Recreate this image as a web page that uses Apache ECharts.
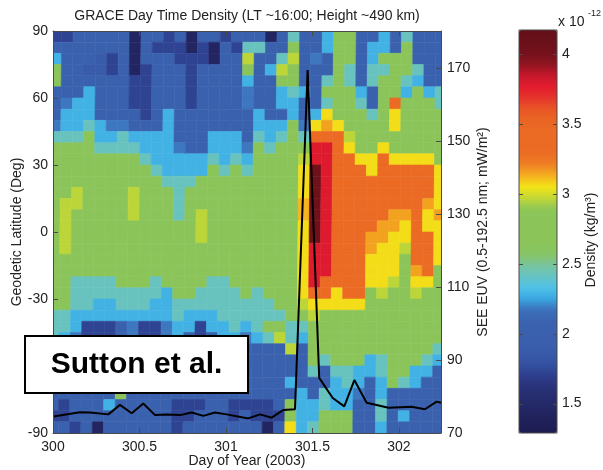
<!DOCTYPE html>
<html><head><meta charset="utf-8">
<script src="https://cdn.jsdelivr.net/npm/echarts/dist/echarts.min.js"></script>
<style>html,body{margin:0;padding:0;background:#fff}#c{width:603px;height:470px}</style>
</head><body><div id="c"></div><script>
const chartTitle = 'GRACE Day Time Density (LT ~16:00; Height ~490 km)';
// orbit (column) edges in day-of-year, at the equator
const orbitEdges = [299.95,300.040,300.106,300.171,300.237,300.302,300.368,300.433,300.499,300.564,300.630,300.695,300.761,300.826,300.892,300.957,301.023,301.088,301.154,301.219,301.285,301.350,301.416,301.481,301.547,301.612,301.678,301.743,301.809,301.874,301.940,302.005,302.071,302.136,302.202,302.30];
// latitude bin edges (deg)
const latEdges = [90,85,80,75,70,65,60,55,50,45,40,35,30,25,20,15,10,5,0,-5,-10,-15,-20,-25,-30,-35,-40,-45,-50,-55,-60,-65,-70,-75,-80,-85,-90];
// density (x 1e-12 kg/m^3), one array per orbit, north -> south
const density = [
[1.72,2.0,2.28,2.75,2.75,2.0,2.0,2.0,2.18,2.42,2.75,2.75,2.75,2.75,2.75,2.75,2.75,2.75,2.75,2.75,2.75,2.75,2.75,2.75,2.75,2.42,2.42,2.42,2.28,2.0,2.0,2.0,2.0,2.0,1.72,2.0],
[1.72,2.0,2.0,2.0,2.0,2.0,2.18,2.28,2.28,2.42,2.75,2.75,2.75,2.75,2.75,2.96,2.96,2.96,2.96,2.96,2.75,2.75,2.75,2.75,2.75,2.42,2.42,2.28,2.18,2.0,2.0,2.0,2.0,1.72,1.72,2.0],
[2.0,2.0,2.0,2.0,2.0,2.0,2.28,2.28,2.28,2.42,2.75,2.75,2.75,2.75,2.96,2.96,2.75,2.75,2.75,2.75,2.75,2.75,2.42,2.42,2.42,2.28,2.28,2.18,2.0,2.0,2.0,2.0,2.0,2.0,2.0,1.72],
[2.0,2.0,2.0,1.88,2.0,2.28,2.28,2.28,2.42,2.75,2.75,2.75,2.75,2.75,2.75,2.75,2.75,2.75,2.75,2.75,2.75,2.75,2.42,2.42,2.42,2.28,1.72,1.72,2.0,2.0,2.0,2.0,2.0,2.0,2.0,2.0],
[2.0,2.0,1.88,1.88,2.0,2.0,2.0,2.0,2.28,2.28,2.42,2.75,2.75,2.75,2.75,2.75,2.75,2.75,2.75,2.75,2.75,2.75,2.42,2.42,2.28,2.28,1.72,1.72,2.0,2.0,2.0,2.0,2.0,2.0,2.0,1.45],
[2.0,2.0,1.72,1.72,2.0,2.0,2.0,2.0,2.18,2.28,2.42,2.75,2.75,2.75,2.75,2.75,2.75,2.75,2.75,2.75,2.75,2.75,2.42,2.42,2.28,2.28,1.72,1.72,2.0,2.0,2.0,2.0,2.0,2.28,2.0,2.0],
[2.0,2.0,2.0,2.0,2.0,2.0,2.0,2.0,2.18,2.42,2.42,2.75,2.75,2.75,2.75,2.75,2.75,2.75,2.75,2.88,2.75,2.75,2.75,2.42,2.42,2.28,2.0,2.0,2.0,2.0,2.0,2.0,2.75,2.0,2.0,2.0],
[1.45,1.45,1.45,1.45,1.72,1.72,1.72,2.0,2.0,2.28,2.42,2.75,2.75,2.75,2.96,2.96,2.96,2.75,2.75,2.75,2.75,2.75,2.75,2.42,2.42,2.28,2.18,2.18,2.0,2.0,2.0,2.0,2.0,2.0,2.0,2.0],
[2.0,2.0,2.0,1.72,1.72,1.72,1.72,1.72,2.0,2.28,2.28,2.42,2.75,2.75,2.75,2.75,2.75,2.75,2.75,2.75,2.75,2.75,2.75,2.42,2.42,2.28,1.72,1.72,2.0,2.0,2.0,2.0,2.0,2.0,2.0,2.0],
[2.0,1.72,2.0,2.0,2.0,2.0,2.0,2.0,2.0,2.28,2.28,2.28,2.42,2.75,2.75,2.75,2.75,2.75,2.75,2.75,2.75,2.75,2.42,2.42,2.28,2.28,1.72,1.72,2.0,2.0,2.0,2.0,2.0,2.0,2.0,2.0],
[1.72,1.72,2.0,2.0,2.0,2.0,2.0,2.28,2.28,2.28,2.28,2.28,2.28,2.42,2.75,2.75,2.75,2.75,2.75,2.75,2.75,2.75,2.75,2.28,2.28,2.28,2.18,2.18,2.0,2.0,2.0,2.0,2.0,2.0,2.0,2.0],
[2.0,1.72,1.72,2.0,2.0,2.0,2.0,2.0,2.0,2.0,2.18,2.28,2.28,2.42,2.42,2.42,2.42,2.75,2.75,2.75,2.75,2.75,2.75,2.75,2.42,2.42,2.28,2.28,2.0,2.0,2.0,2.0,2.0,1.72,1.72,1.72],
[1.45,1.45,1.72,1.72,1.72,1.72,1.72,2.0,2.0,2.0,2.0,2.28,2.28,2.42,2.75,2.75,2.75,2.75,2.75,2.75,2.75,2.75,2.75,2.75,2.42,2.28,2.28,2.0,2.0,2.0,2.0,2.0,2.0,1.72,1.72,2.0],
[2.0,1.72,1.72,2.0,2.0,2.0,2.0,2.0,2.0,2.0,2.0,2.28,2.28,2.75,2.75,2.75,2.96,2.96,2.96,2.75,2.75,2.75,2.75,2.42,2.42,2.28,1.72,1.72,2.0,2.0,2.0,2.0,2.0,1.72,2.0,2.0],
[2.0,1.45,1.45,2.0,2.0,2.0,2.0,2.0,2.0,2.28,2.28,2.42,2.75,2.75,2.75,2.75,2.75,2.75,2.75,2.75,2.75,2.75,2.42,2.42,2.42,2.28,2.28,2.0,2.0,2.0,2.0,2.0,2.0,2.0,2.0,2.0],
[1.72,2.0,2.0,2.0,2.0,2.0,2.0,2.0,2.0,2.28,2.28,2.28,2.42,2.75,2.75,2.75,2.75,2.75,2.75,2.75,2.75,2.75,2.42,2.42,2.42,2.42,2.28,2.28,2.0,2.0,2.0,2.0,2.0,2.0,2.0,2.0],
[2.0,1.72,2.0,2.0,2.0,2.0,2.0,2.0,2.0,2.28,2.28,2.42,2.75,2.75,2.75,2.75,2.75,2.75,2.75,2.75,2.75,2.75,2.75,2.42,2.42,2.42,2.42,2.28,2.0,2.0,2.0,2.0,2.0,1.72,1.72,2.0],
[2.0,2.42,2.96,2.75,2.28,2.18,2.18,2.0,2.0,2.0,2.18,2.28,2.42,2.75,2.75,2.75,2.75,2.75,2.75,2.75,2.75,2.75,2.75,2.75,2.42,2.42,2.28,2.18,2.0,2.0,2.0,2.0,2.0,1.72,2.0,2.0],
[2.0,2.42,2.0,2.0,2.0,2.0,2.0,2.28,2.28,2.42,2.75,2.75,2.75,2.75,2.75,2.75,2.75,2.75,2.75,2.75,2.75,2.75,2.75,2.42,2.42,2.42,2.42,2.28,2.0,2.0,2.0,2.0,2.0,1.72,1.72,2.0],
[1.45,2.0,2.0,2.28,2.0,2.0,2.0,2.0,2.28,2.28,2.42,2.75,2.75,2.75,2.75,2.75,2.75,2.75,2.75,2.75,2.75,2.75,2.75,2.75,2.42,2.42,2.75,2.42,2.0,2.0,2.0,2.0,2.0,1.72,1.72,1.45],
[2.0,2.0,2.42,2.96,2.75,2.28,2.28,2.0,2.28,2.42,2.75,2.75,2.75,2.75,2.75,2.75,2.75,2.75,2.75,2.75,2.75,2.75,2.75,2.75,2.75,2.42,2.75,2.96,2.0,2.0,2.0,2.0,2.0,2.0,1.72,2.0],
[2.42,2.75,2.96,2.75,2.75,2.42,2.28,2.28,2.75,2.75,2.75,2.75,2.75,2.75,2.75,2.75,2.75,2.75,2.75,2.75,2.75,2.75,2.75,2.75,2.75,2.75,2.42,2.42,2.96,2.0,2.0,2.28,2.0,2.75,2.75,3.06],
[2.0,2.0,2.0,2.0,2.0,2.28,2.0,2.0,2.18,2.42,2.75,2.96,3.06,3.06,3.06,3.12,3.12,3.06,3.06,3.06,3.06,3.06,3.06,3.06,2.96,2.75,2.42,2.28,2.0,2.0,2.0,2.0,2.28,2.28,2.28,2.28],
[2.0,2.0,2.18,2.0,2.0,2.0,2.0,2.28,3.06,3.4,3.78,3.78,4.05,4.05,4.05,4.05,4.05,4.05,4.05,3.78,3.78,3.78,3.78,3.4,3.06,2.96,2.75,2.75,2.75,2.75,2.42,2.0,2.0,2.28,2.28,2.42],
[2.28,2.28,2.0,2.0,2.42,2.75,2.42,3.06,3.15,3.4,3.78,3.78,3.78,3.78,3.78,3.78,3.78,3.78,3.78,3.78,3.78,3.78,3.4,3.4,3.06,2.75,2.75,2.75,2.75,2.42,2.0,2.0,2.42,2.42,2.75,2.75],
[2.75,2.75,2.75,2.75,2.75,2.75,2.75,2.75,3.06,3.4,3.4,3.4,3.4,3.4,3.4,3.4,3.4,3.4,3.4,3.4,3.4,3.4,3.4,3.06,3.06,2.75,2.75,2.75,2.75,2.75,2.42,2.28,2.28,2.28,2.75,2.75],
[2.75,2.75,2.75,2.42,2.42,2.75,2.75,2.75,2.75,2.96,3.06,3.4,3.4,3.4,3.4,3.4,3.4,3.4,3.4,3.4,3.4,3.4,3.4,3.4,3.06,2.75,2.75,2.75,2.75,2.75,2.42,2.42,2.28,2.28,2.75,2.75],
[2.0,2.0,2.0,2.0,2.0,2.28,2.42,2.75,2.75,2.75,2.75,3.06,3.4,3.4,3.4,3.4,3.4,3.4,3.4,3.4,3.4,3.4,3.4,3.4,3.06,2.75,2.75,2.75,2.75,2.75,2.28,2.28,2.18,2.0,2.0,2.0],
[2.0,2.28,2.28,2.42,2.42,2.0,2.0,2.42,2.75,2.75,2.75,3.06,3.06,3.4,3.4,3.4,3.4,3.4,3.15,3.15,3.06,3.06,3.06,2.75,2.75,2.75,2.75,2.75,2.75,2.28,2.28,2.0,2.0,2.0,2.0,2.0],
[2.28,2.28,2.75,2.42,2.75,2.75,2.75,2.75,2.75,2.75,3.06,3.4,3.4,3.4,3.4,3.4,3.4,3.15,3.15,3.06,3.06,3.06,3.06,2.96,2.75,2.75,2.75,2.75,2.75,2.42,2.42,2.28,2.28,2.42,2.42,2.28],
[2.0,2.0,2.75,2.75,2.75,2.75,3.4,3.06,3.06,2.75,2.75,3.06,3.4,3.4,3.4,3.4,3.15,3.15,3.06,3.06,3.06,3.06,2.96,2.75,2.75,2.75,2.75,2.75,2.75,2.75,2.75,2.75,2.0,2.0,2.0,2.0],
[2.42,2.75,2.75,2.75,2.42,2.28,2.75,2.75,2.75,2.75,2.75,3.06,3.4,3.4,3.4,3.4,3.15,3.06,3.06,2.96,2.75,2.75,2.75,2.75,2.75,2.75,2.75,2.75,2.75,2.75,2.75,2.42,2.0,2.0,2.28,2.0],
[2.0,2.0,2.0,2.42,2.28,2.75,2.75,2.75,2.75,2.75,2.75,3.06,3.4,3.4,3.4,3.4,3.4,3.4,3.4,3.4,3.4,3.15,3.06,2.96,2.75,2.75,2.75,2.75,2.75,2.75,2.28,2.28,2.0,2.0,2.0,2.0],
[2.0,2.0,2.0,2.0,2.0,2.28,2.75,2.75,2.75,2.75,2.75,3.06,3.4,3.4,3.4,3.15,3.06,3.06,3.4,3.4,3.4,3.4,3.06,2.75,2.75,2.75,2.75,2.75,2.75,2.42,2.28,2.0,2.0,2.0,2.0,2.0],
[2.0,2.0,2.0,2.0,2.0,2.42,2.42,2.75,2.75,2.75,2.75,2.75,3.06,3.06,3.06,3.06,3.15,3.06,3.06,3.06,3.06,2.75,2.75,2.75,2.75,2.75,2.75,2.75,2.42,2.28,2.0,2.0,2.0,2.0,2.0,2.0]
];
// SEE EUV (mW/m^2)
const euvDay = [300.002,300.156,300.214,300.320,300.387,300.455,300.522,300.590,300.657,300.734,300.802,300.869,300.936,301.004,301.129,301.197,301.264,301.331,301.399,301.472,301.539,301.617,301.684,301.742,301.813,301.940,302.073,302.150,302.218,302.243];
const euvValue = [74.5,75.7,75.6,75.1,77.7,75.4,78.1,74.9,75.1,74.9,75.6,74.7,75.6,75.1,74.0,75.1,74.2,76.3,76.5,169.4,85.1,79.6,77.3,84.5,78.3,76.9,77.2,76.5,78.6,78.3];
const dayTicks = [300, 300.5, 301, 301.5, 302];
const latTicks = [-90, -60, -30, 0, 30, 60, 90];
const euvTicks = [70, 90, 110, 130, 150, 170];
const densityTicks = [1.5, 2, 2.5, 3, 3.5, 4];
const densityRange = [1.29, 4.17];
const colorScale = ['#1d1c50','#1f2058','#222562','#252b6c','#293277','#2d3c8b','#334f9f','#3759a8','#3a5fad','#3a61ae','#3b63b0','#3c70ba','#3aa8e2','#50c2e6','#66c3c4','#79c49c','#87c563','#8bc55a','#8bc55a','#8bc55a','#8dc658','#c3d734','#f3e417','#f5ae1f','#ee7e23','#eb6c24','#eb6a24','#eb6a24','#e96524','#e85427','#e5322b','#e21b2e','#c3172a','#8c1420','#73111b','#6a1019','#640f18'];

const passLag = 0.0101; // day offset of a pass at the poles relative to the equator
const cells = [];
density.forEach((col, c) => col.forEach((v, r) => {
  cells.push([orbitEdges[c], orbitEdges[c + 1], latEdges[r], latEdges[r + 1], v]);
}));

const font = '"Liberation Sans", Arial, Helvetica, sans-serif';
const frame = '#4a4a4a';
const txt = '#222';
const cbTickLen = 4;

function renderCell(params, api) {
  const t0 = api.value(0), t1 = api.value(1), a = api.value(2), b = api.value(3);
  const sa = passLag * a / 90, sb = passLag * b / 90;
  const pts = [api.coord([t0 + sa, a]), api.coord([t1 + sa, a]), api.coord([t1 + sb, b]), api.coord([t0 + sb, b])];
  const col = api.visual('color');
  return { type: 'polygon', shape: { points: pts }, style: { fill: col, stroke: col, lineWidth: 0.6 } };
}
function renderBarTick(params, api) {
  const v = api.value(0);
  const l = api.coord([0, v]), r = api.coord([1, v]);
  const st = { stroke: frame, lineWidth: 1 };
  return { type: 'group', children: [
    { type: 'line', shape: { x1: l[0], y1: Math.round(l[1]) + 0.5, x2: l[0] + cbTickLen, y2: Math.round(l[1]) + 0.5 }, style: st },
    { type: 'line', shape: { x1: r[0] - cbTickLen, y1: Math.round(r[1]) + 0.5, x2: r[0], y2: Math.round(r[1]) + 0.5 }, style: st }
  ] };
}

const chart = echarts.init(document.getElementById('c'), null, { renderer: 'canvas' });
chart.setOption({
  animation: false,
  backgroundColor: '#fff',
  textStyle: { fontFamily: font },
  grid: [
    { left: 53, top: 31, width: 388, height: 402, containLabel: false, outerBoundsMode: 'none' },
    { left: 519, top: 30, width: 38, height: 403, containLabel: false, outerBoundsMode: 'none',
      show: true, borderColor: frame, borderWidth: 1, backgroundColor: 'transparent', z: 5 }
  ],
  xAxis: [
    { gridIndex: 0, type: 'value', min: 300, max: 302.243, position: 'bottom', z: 6,
      axisLine: { show: true, onZero: false, lineStyle: { color: frame } },
      axisTick: { inside: true, length: 5, customValues: dayTicks, lineStyle: { color: frame } },
      axisLabel: { customValues: dayTicks, color: txt, fontSize: 14, margin: 7, fontFamily: font },
      splitLine: { show: false },
      name: 'Day of Year (2003)', nameLocation: 'middle', nameGap: 21, nameMoveOverlap: false,
      nameTextStyle: { color: txt, fontSize: 14, fontFamily: font } },
    { gridIndex: 0, type: 'value', min: 300, max: 302.243, position: 'top', z: 6,
      axisLine: { show: true, onZero: false, lineStyle: { color: frame } },
      axisTick: { inside: true, length: 5, customValues: dayTicks, lineStyle: { color: frame } },
      axisLabel: { show: false }, splitLine: { show: false } },
    { gridIndex: 1, type: 'value', min: 0, max: 1, show: false }
  ],
  yAxis: [
    { gridIndex: 0, type: 'value', min: -90, max: 90, position: 'left', z: 6,
      axisLine: { show: true, onZero: false, lineStyle: { color: frame } },
      axisTick: { inside: true, length: 5, customValues: latTicks, lineStyle: { color: frame } },
      axisLabel: { customValues: latTicks, color: txt, fontSize: 14, margin: 5, fontFamily: font },
      splitLine: { show: false },
      name: 'Geodetic Latitude (Deg)', nameLocation: 'middle', nameGap: 29, nameRotate: 90, nameMoveOverlap: false,
      nameTextStyle: { color: txt, fontSize: 14, fontFamily: font } },
    { gridIndex: 0, type: 'value', min: 70, max: 180.1, position: 'right', z: 6,
      axisLine: { show: true, onZero: false, lineStyle: { color: frame } },
      axisTick: { inside: true, length: 5, customValues: euvTicks, lineStyle: { color: frame } },
      axisLabel: { customValues: euvTicks, color: txt, fontSize: 14, margin: 6, fontFamily: font },
      splitLine: { show: false },
      name: 'SEE EUV (0.5-192.5 nm; mW/m²)', nameLocation: 'middle', nameGap: 35, nameRotate: 90, nameMoveOverlap: false,
      nameTextStyle: { color: txt, fontSize: 14, fontFamily: font } },
    { gridIndex: 1, type: 'value', min: densityRange[0], max: densityRange[1], position: 'right',
      axisLine: { show: false }, axisTick: { show: false },
      axisLabel: { customValues: densityTicks, color: txt, fontSize: 14, margin: 5, fontFamily: font },
      splitLine: { show: false } }
  ],
  visualMap: {
    type: 'continuous', min: densityRange[0], max: densityRange[1], dimension: 4, seriesIndex: 0,
    inRange: { color: colorScale }, calculable: false, hoverLink: false, z: 1,
    left: 519, top: 30, itemWidth: 38, itemHeight: 403, padding: 0, text: null, showLabel: false
  },
  series: [
    { type: 'custom', xAxisIndex: 0, yAxisIndex: 0, data: cells, renderItem: renderCell,
      clip: true, silent: true, z: 1 },
    { type: 'line', xAxisIndex: 0, yAxisIndex: 1, data: euvDay.map((d, i) => [d, euvValue[i]]),
      symbol: 'none', silent: true, z: 4, lineStyle: { color: '#000', width: 2 } },
    { type: 'custom', xAxisIndex: 2, yAxisIndex: 2, data: densityTicks.map(v => [v]),
      renderItem: renderBarTick, silent: true, z: 20, encode: { y: 0 } }
  ],
  graphic: [
    { type: 'text', x: 247, y: 16, z: 10, style: { text: chartTitle, textAlign: 'center', textVerticalAlign: 'middle', fill: txt, font: '14px ' + font } },
    { type: 'text', x: 558, y: 22, z: 10, style: { text: 'x 10', textAlign: 'left', textVerticalAlign: 'middle', fill: txt, font: '14px ' + font } },
    { type: 'text', x: 588, y: 14, z: 10, style: { text: '-12', textAlign: 'left', textVerticalAlign: 'middle', fill: txt, font: '9px ' + font } },
    { type: 'text', x: 591, y: 240, rotation: Math.PI / 2, z: 10, style: { text: 'Density (kg/m³)', textAlign: 'center', textVerticalAlign: 'middle', fill: txt, font: '14px ' + font } },
    { type: 'rect', z: 100, shape: { x: 25, y: 336, width: 223, height: 57 }, style: { fill: '#fff', stroke: '#000', lineWidth: 2 } },
    { type: 'text', z: 101, x: 136.5, y: 365, style: { text: 'Sutton et al.', textAlign: 'center', textVerticalAlign: 'middle', fill: '#000', font: 'bold 30px ' + font } }
  ]
});
</script></body></html>
